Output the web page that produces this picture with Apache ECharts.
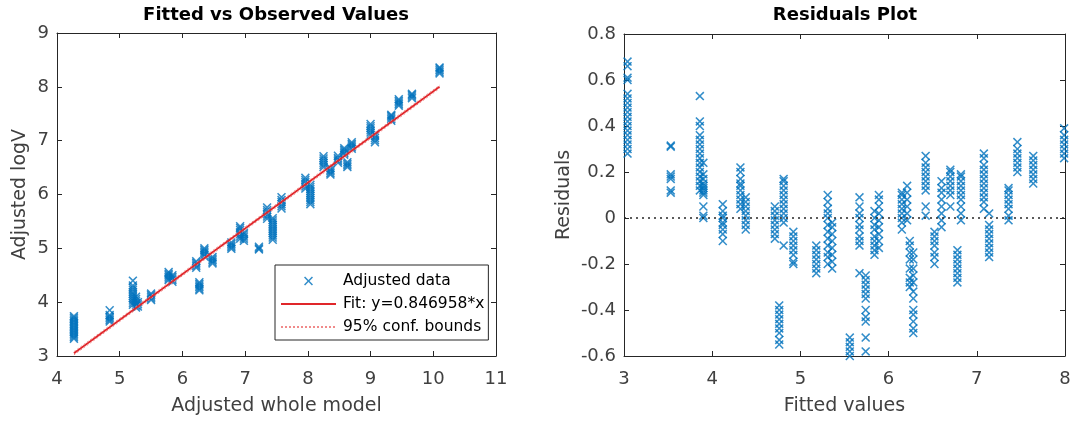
<!DOCTYPE html>
<html>
<head>
<meta charset="utf-8">
<script src="https://cdn.jsdelivr.net/npm/echarts@6/dist/echarts.min.js"></script>
<style>
  html, body { margin: 0; padding: 0; background: #fff; }
  #chart { width: 1074px; height: 425px; }
</style>
</head>
<body>
<div id="chart"></div>
<script>
// left panel: observed logV columns at each adjusted model value
var modelX = [4.27, 4.84, 5.21, 5.26, 5.29, 5.50, 5.78, 5.84, 6.22, 6.27, 6.35, 6.48, 6.78, 6.92, 6.98,
  7.22, 7.35, 7.44, 7.58, 7.96, 8.04, 8.25, 8.36, 8.48, 8.58, 8.63, 8.70, 9.00, 9.07, 9.33, 9.45, 9.66, 10.10]
var logV = [
  [3.32, 3.35, 3.38, 3.41, 3.44, 3.47, 3.50, 3.53, 3.56, 3.59, 3.62, 3.65, 3.68, 3.71, 3.74],
  [3.64, 3.67, 3.70, 3.73, 3.76, 3.85],
  [3.95, 3.99, 4.03, 4.07, 4.11, 4.15, 4.19, 4.23, 4.27, 4.31, 4.40],
  [3.90, 3.94, 3.98, 4.02, 4.06, 4.10],
  [3.92, 3.96, 4.00],
  [4.04, 4.07, 4.10, 4.13, 4.16],
  [4.41, 4.44, 4.47, 4.50, 4.53, 4.56],
  [4.38, 4.41, 4.44, 4.47, 4.50],
  [4.64, 4.67, 4.70, 4.73, 4.76],
  [4.22, 4.25, 4.28, 4.31, 4.34, 4.37],
  [4.85, 4.88, 4.91, 4.94, 4.97, 5.00],
  [4.72, 4.75, 4.78, 4.81, 4.84],
  [4.99, 5.02, 5.05, 5.08, 5.11],
  [5.18, 5.22, 5.26, 5.30, 5.34, 5.38, 5.41],
  [5.14, 5.18, 5.22, 5.26, 5.29],
  [4.98, 5.00, 5.03],
  [5.55, 5.59, 5.63, 5.67, 5.71, 5.76],
  [5.16, 5.20, 5.24, 5.28, 5.32, 5.36, 5.40, 5.44, 5.48, 5.52, 5.56],
  [5.74, 5.78, 5.82, 5.86, 5.90, 5.95],
  [6.11, 6.15, 6.19, 6.23, 6.27, 6.31],
  [5.82, 5.86, 5.90, 5.94, 5.98, 6.02, 6.06, 6.10, 6.14, 6.18],
  [6.51, 6.55, 6.59, 6.63, 6.67, 6.71],
  [6.37, 6.40, 6.43, 6.46, 6.49],
  [6.59, 6.62, 6.65, 6.68, 6.72],
  [6.74, 6.77, 6.80, 6.83, 6.86],
  [6.51, 6.54, 6.57, 6.60],
  [6.85, 6.88, 6.91, 6.94, 6.97],
  [7.11, 7.15, 7.19, 7.23, 7.27, 7.31],
  [6.97, 7.01, 7.05, 7.09, 7.12],
  [7.37, 7.40, 7.43, 7.46, 7.48],
  [7.65, 7.68, 7.71, 7.74, 7.77],
  [7.79, 7.82, 7.85, 7.87],
  [8.25, 8.28, 8.31, 8.34, 8.36]
]
var fitX = [4.27, 10.10]
var fitY = [3.05, 8.00]
var boundLo = [3.02, 7.97]
var boundHi = [3.08, 8.03]

// right panel: residual columns at each fitted value
var fittedX = [3.04, 3.53, 3.86, 3.90, 4.12, 4.32, 4.38, 4.71, 4.76, 4.81, 4.92, 5.18, 5.31, 5.36, 5.56, 5.67,
  5.74, 5.84, 5.89, 6.15, 6.21, 6.24, 6.28, 6.42, 6.52, 6.60, 6.70, 6.78, 6.82, 7.08, 7.14, 7.36, 7.46, 7.64, 7.99]
var residuals = [
  [0.28, 0.30, 0.32, 0.34, 0.36, 0.38, 0.40, 0.42, 0.44, 0.46, 0.48, 0.50, 0.52, 0.54, 0.60, 0.61, 0.66, 0.68],
  [0.11, 0.12, 0.17, 0.18, 0.19, 0.31, 0.315],
  [0.12, 0.14, 0.16, 0.18, 0.20, 0.22, 0.24, 0.26, 0.28, 0.30, 0.32, 0.34, 0.36, 0.40, 0.42, 0.53],
  [0.00, 0.01, 0.05, 0.10, 0.11, 0.12, 0.13, 0.14, 0.15, 0.17, 0.19, 0.24],
  [-0.10, -0.07, -0.05, -0.03, -0.02, 0.00, 0.01, 0.03, 0.06],
  [0.04, 0.06, 0.08, 0.10, 0.12, 0.14, 0.15, 0.17, 0.20, 0.22],
  [-0.05, -0.03, -0.01, 0.01, 0.03, 0.05, 0.07, 0.09],
  [-0.09, -0.07, -0.05, -0.03, -0.01, 0.01, 0.03, 0.05],
  [-0.55, -0.53, -0.50, -0.48, -0.46, -0.44, -0.42, -0.40, -0.38],
  [-0.12, -0.02, 0.00, 0.02, 0.04, 0.06, 0.08, 0.10, 0.12, 0.14, 0.16, 0.17],
  [-0.20, -0.19, -0.16, -0.14, -0.12, -0.10, -0.08, -0.06],
  [-0.24, -0.22, -0.20, -0.18, -0.16, -0.14, -0.12],
  [-0.20, -0.17, -0.15, -0.12, -0.09, -0.06, -0.03, 0.00, 0.02, 0.04, 0.07, 0.10],
  [-0.22, -0.19, -0.16, -0.13, -0.10, -0.07, -0.04, -0.02],
  [-0.60, -0.58, -0.56, -0.54, -0.52],
  [-0.24, -0.12, -0.10, -0.08, -0.05, -0.03, 0.00, 0.02, 0.05, 0.09],
  [-0.58, -0.52, -0.45, -0.43, -0.40, -0.35, -0.33, -0.31, -0.29, -0.27, -0.25],
  [-0.16, -0.14, -0.12, -0.10, -0.08, -0.05, -0.03, 0.00, 0.03],
  [-0.13, -0.10, -0.07, -0.04, -0.01, 0.02, 0.05, 0.08, 0.10],
  [-0.05, -0.02, 0.00, 0.02, 0.04, 0.06, 0.08, 0.10, 0.11],
  [-0.01, 0.02, 0.05, 0.08, 0.11, 0.14],
  [-0.30, -0.28, -0.26, -0.22, -0.18, -0.15, -0.12, -0.10],
  [-0.50, -0.48, -0.45, -0.42, -0.40, -0.35, -0.32, -0.28, -0.25, -0.22, -0.18, -0.15],
  [0.01, 0.05, 0.12, 0.14, 0.16, 0.18, 0.20, 0.22, 0.24, 0.27],
  [-0.20, -0.17, -0.15, -0.12, -0.10, -0.08, -0.06],
  [-0.04, -0.01, 0.02, 0.05, 0.08, 0.11, 0.13, 0.16],
  [0.05, 0.10, 0.12, 0.14, 0.16, 0.18, 0.20, 0.21],
  [-0.28, -0.26, -0.24, -0.22, -0.20, -0.18, -0.16, -0.14],
  [-0.01, 0.02, 0.05, 0.08, 0.10, 0.12, 0.14, 0.16, 0.18, 0.19],
  [0.04, 0.07, 0.09, 0.11, 0.13, 0.15, 0.17, 0.19, 0.21, 0.23, 0.26, 0.28],
  [-0.17, -0.15, -0.13, -0.11, -0.09, -0.07, -0.05, -0.03, 0.02],
  [-0.01, 0.01, 0.04, 0.06, 0.08, 0.10, 0.12, 0.13],
  [0.20, 0.22, 0.24, 0.26, 0.28, 0.30, 0.33],
  [0.15, 0.17, 0.19, 0.21, 0.23, 0.25, 0.27],
  [0.26, 0.28, 0.30, 0.32, 0.34, 0.36, 0.39]
]
var zeroX = [3, 8]
var zeroY = [0, 0]

var leftTicks = { xMin: 4, xMax: 11, yMin: 3, yMax: 9 }
var rightTicks = { xMin: 3, xMax: 8, yMin: -0.6, yMax: 0.8 }

function columnsToPoints(xs, cols) {
  var pts = []
  xs.forEach(function (x, i) {
    cols[i].forEach(function (y) { pts.push([x, y]) })
  })
  return pts
}
function zipPoints(xs, ys) {
  return xs.map(function (x, i) { return [x, ys[i]] })
}

var BLUE = "#0072BD"
var RED = "#e0262a"
var PINK = "#f08a8a"
var AXIS = "#262626"
var crossPath = "path://M0,1.2L1.2,0L5,3.8L8.8,0L10,1.2L6.2,5L10,8.8L8.8,10L5,6.2L1.2,10L0,8.8L3.8,5Z"
var FONT = "DejaVu Sans"

function makeX(grid, min, max, pos, name, gap) {
  return {
    type: "value", gridIndex: grid, min: min, max: max, interval: 1, position: pos,
    axisLine: { onZero: false, lineStyle: { color: AXIS, width: 1 } },
    axisTick: { inside: true, length: 5, lineStyle: { color: AXIS } },
    axisLabel: { show: pos === "bottom", fontSize: 18, color: "#404040", margin: 14, fontFamily: FONT },
    splitLine: { show: false },
    name: name, nameLocation: "middle", nameGap: gap,
    nameTextStyle: { fontSize: 19, color: "#404040", fontFamily: FONT }
  }
}
function makeY(grid, min, max, interval, pos, name, gap) {
  return {
    type: "value", gridIndex: grid, min: min, max: max, interval: interval, position: pos,
    axisLine: { onZero: false, lineStyle: { color: AXIS, width: 1 } },
    axisTick: { inside: true, length: 5, lineStyle: { color: AXIS } },
    axisLabel: { show: pos === "left", fontSize: 18, color: "#404040", margin: 8, fontFamily: FONT },
    splitLine: { show: false },
    name: name, nameLocation: "middle", nameGap: gap,
    nameTextStyle: { fontSize: 19, color: "#404040", fontFamily: FONT }
  }
}

var chart = echarts.init(document.getElementById("chart"))
var option = {
  animation: false,
  backgroundColor: "#fff",
  textStyle: { fontFamily: FONT },
  title: [
    { text: "Fitted vs Observed Values", left: 276, top: 6, textAlign: "center", padding: 0,
      textStyle: { fontSize: 18, fontWeight: "bold", color: "#000", fontFamily: FONT } },
    { text: "Residuals Plot", left: 845, top: 6, textAlign: "center", padding: 0,
      textStyle: { fontSize: 18, fontWeight: "bold", color: "#000", fontFamily: FONT } }
  ],
  grid: [
    { left: 57, right: 1074 - 496, top: 33, bottom: 425 - 356, show: true, borderWidth: 0 },
    { left: 624, right: 1074 - 1065, top: 34, bottom: 425 - 356, show: true, borderWidth: 0 }
  ],
  xAxis: [
    makeX(0, leftTicks.xMin, leftTicks.xMax, "bottom", "Adjusted whole model", 41),
    makeX(0, leftTicks.xMin, leftTicks.xMax, "top", "", 0),
    makeX(1, rightTicks.xMin, rightTicks.xMax, "bottom", "Fitted values", 41),
    makeX(1, rightTicks.xMin, rightTicks.xMax, "top", "", 0)
  ],
  yAxis: [
    makeY(0, leftTicks.yMin, leftTicks.yMax, 1, "left", "Adjusted logV", 27),
    makeY(0, leftTicks.yMin, leftTicks.yMax, 1, "right", "", 0),
    makeY(1, rightTicks.yMin, rightTicks.yMax, 0.2, "left", "Residuals", 50),
    makeY(1, rightTicks.yMin, rightTicks.yMax, 0.2, "right", "", 0)
  ],
  legend: {
    data: [
      { name: "Adjusted data" },
      { name: "Fit: y=0.846958*x", itemStyle: { color: "transparent", opacity: 0 } },
      { name: "95% conf. bounds", itemStyle: { color: "transparent", opacity: 0 } }
    ],
    orient: "vertical",
    left: 275, top: 265,
    padding: [8, 4, 5, 5],
    itemWidth: 55, itemHeight: 9, itemGap: 7,
    borderColor: AXIS, borderWidth: 1, backgroundColor: "#fff",
    textStyle: { fontSize: 15.5, color: "#000", fontFamily: FONT, padding: [0, 0, 0, 2] }
  },
  series: [
    {
      name: "Adjusted data", type: "scatter", xAxisIndex: 0, yAxisIndex: 0,
      symbol: crossPath, symbolSize: 9, itemStyle: { color: BLUE },
      data: columnsToPoints(modelX, logV), z: 2
    },
    {
      name: "Fit: y=0.846958*x", type: "line", xAxisIndex: 0, yAxisIndex: 0,
      symbol: "none", lineStyle: { color: RED, width: 1.8 }, itemStyle: { color: RED },
      data: zipPoints(fitX, fitY), z: 3
    },
    {
      name: "95% conf. bounds", type: "line", xAxisIndex: 0, yAxisIndex: 0,
      symbol: "none", lineStyle: { color: PINK, width: 1, type: [2, 2] }, itemStyle: { color: PINK },
      data: zipPoints(fitX, boundLo), z: 3
    },
    {
      name: "95% conf. bounds", type: "line", xAxisIndex: 0, yAxisIndex: 0,
      symbol: "none", lineStyle: { color: PINK, width: 1, type: [2, 2] }, itemStyle: { color: PINK },
      data: zipPoints(fitX, boundHi), z: 3
    },
    {
      name: "residuals", type: "scatter", xAxisIndex: 2, yAxisIndex: 2,
      symbol: crossPath, symbolSize: 9, itemStyle: { color: BLUE },
      data: columnsToPoints(fittedX, residuals), z: 2
    },
    {
      name: "zero", type: "line", xAxisIndex: 2, yAxisIndex: 2,
      symbol: "none", lineStyle: { color: AXIS, width: 1.5, type: [2, 4] },
      data: zipPoints(zeroX, zeroY), z: 3
    }
  ]
}
chart.setOption(option)

window.addEventListener("resize", () => {
  chart.resize()
})
</script>
</body>
</html>
